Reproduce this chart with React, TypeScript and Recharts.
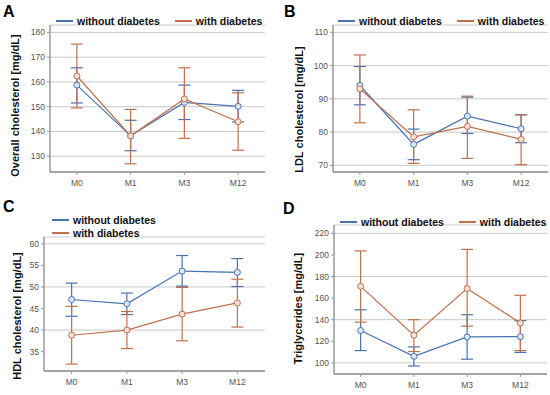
import React from "react";
import {
  LineChart,
  Line,
  XAxis,
  YAxis,
  CartesianGrid,
  ErrorBar,
  Legend,
  Label,
} from "recharts";

const months = ["M0", "M1", "M3", "M12"];
const seriesNames = ["without diabetes", "with diabetes"];

// A: overall cholesterol
const cholNoMean = [158.7, 138.2, 151.7, 150.1];
const cholNoLow = [151.5, 132.2, 144.8, 143.8];
const cholNoHigh = [165.7, 144.5, 158.7, 156.6];
const cholDiMean = [162.4, 138.2, 153.1, 143.9];
const cholDiLow = [149.5, 126.9, 137.2, 132.4];
const cholDiHigh = [175.3, 148.9, 165.7, 155.6];
const cholTicks = [130, 140, 150, 160, 170, 180];

// B: LDL
const ldlNoMean = [94.0, 76.3, 84.8, 81.0];
const ldlNoLow = [88.2, 71.7, 79.6, 76.8];
const ldlNoHigh = [99.7, 80.9, 90.5, 85.2];
const ldlDiMean = [93.0, 78.6, 81.7, 77.8];
const ldlDiLow = [82.8, 70.6, 72.1, 70.2];
const ldlDiHigh = [103.2, 86.7, 90.8, 85.2];
const ldlTicks = [70, 80, 90, 100, 110];

// C: HDL
const hdlNoMean = [47.1, 46.1, 53.7, 53.4];
const hdlNoLow = [43.2, 43.6, 50.2, 50.1];
const hdlNoHigh = [50.9, 48.6, 57.3, 56.6];
const hdlDiMean = [38.8, 40.0, 43.7, 46.3];
const hdlDiLow = [32.1, 35.7, 37.5, 40.7];
const hdlDiHigh = [45.5, 44.3, 49.9, 51.8];
const hdlTicks = [35, 40, 45, 50, 55, 60];

// D: triglycerides
const tgNoMean = [130.0, 106.0, 124.0, 124.3];
const tgNoLow = [111.4, 97.1, 103.4, 109.7];
const tgNoHigh = [149.1, 114.8, 144.6, 139.1];
const tgDiMean = [170.9, 125.7, 168.9, 137.0];
const tgDiLow = [137.7, 110.5, 134.0, 111.4];
const tgDiHigh = [203.7, 140.0, 205.1, 162.6];
const tgTicks = [100, 120, 140, 160, 180, 200, 220];

const BLUE = "#4673b3";
const BROWN = "#c0714c";
const FONT = "'Liberation Sans', Arial, sans-serif";

function buildRows(
  noMean: number[], noLow: number[], noHigh: number[],
  diMean: number[], diLow: number[], diHigh: number[]
) {
  return months.map((m, i) => ({
    m,
    no: noMean[i],
    noErr: [noMean[i] - noLow[i], noHigh[i] - noMean[i]],
    di: diMean[i],
    diErr: [diMean[i] - diLow[i], diHigh[i] - diMean[i]],
  }));
}

function LegendBox({ payload, vertical }: any) {
  const items = [...(payload || [])].sort(
    (a: any, b: any) => seriesNames.indexOf(a.value) - seriesNames.indexOf(b.value)
  );
  return (
    <div
      style={{
        display: "flex",
        flexDirection: vertical ? "column" : "row",
        gap: vertical ? 1 : 15,
        fontFamily: FONT,
        fontWeight: "bold",
        fontSize: 10.5,
        color: "#111",
        lineHeight: "12px",
      }}
    >
      {items.map((p: any) => (
        <div key={p.value} style={{ display: "flex", alignItems: "center" }}>
          <span
            style={{
              display: "inline-block",
              width: 17,
              height: 2,
              background: p.color,
              marginRight: 4,
            }}
          />
          <span>{p.value}</span>
        </div>
      ))}
    </div>
  );
}

interface PanelProps {
  letter: string;
  ylabel: string;
  rows: any[];
  domain: [number, number];
  ticks: number[];
  left: number;
  top: number;
  width: number;
  height: number;
  margin: { top: number; right: number; left: number; bottom: number };
  yWidth: number;
  xHeight: number;
  labelX: number;
  labelDy: number;
  legendPos: { left: number; top: number };
  legendVertical?: boolean;
  letterPos: { left: number; top: number };
}

function Panel(p: PanelProps) {
  return (
    <div style={{ position: "absolute", left: p.left, top: p.top, width: p.width, height: p.height }}>
      <div
        style={{
          position: "absolute",
          left: p.letterPos.left,
          top: p.letterPos.top,
          fontFamily: FONT,
          fontWeight: "bold",
          fontSize: 16,
          lineHeight: "16px",
          color: "#000",
          zIndex: 2,
        }}
      >
        {p.letter}
      </div>
      <LineChart width={p.width} height={p.height} data={p.rows} margin={p.margin}>
        <CartesianGrid vertical={false} stroke="#c9c9c9" strokeWidth={1} />
        <XAxis
          dataKey="m"
          scale="band"
          height={p.xHeight}
          tick={{ fontSize: 8.5, fill: "#555", fontFamily: FONT, dy: 3 }}
          tickLine={{ stroke: "#999" }}
          tickSize={3}
          axisLine={{ stroke: "#666" }}
        />
        <XAxis
          xAxisId="top"
          dataKey="m"
          scale="band"
          orientation="top"
          height={0}
          tick={false}
          tickLine={false}
          axisLine={{ stroke: "#666" }}
        />
        <YAxis
          domain={p.domain}
          ticks={p.ticks}
          type="number"
          allowDataOverflow
          width={p.yWidth}
          tick={{ fontSize: 8.5, fill: "#555", fontFamily: FONT }}
          tickLine={{ stroke: "#999" }}
          tickSize={3}
          axisLine={{ stroke: "#666" }}
        >
          <Label
            content={(lp: any) => {
              const vb = lp.viewBox || {};
              const cx = p.labelX;
              const cy = vb.y + vb.height / 2 + p.labelDy;
              return (
                <text
                  x={cx}
                  y={cy}
                  transform={`rotate(-90, ${cx}, ${cy})`}
                  textAnchor="middle"
                  dominantBaseline="central"
                  fontFamily={FONT}
                  fontWeight="bold"
                  fontSize={11}
                  fill="#111"
                >
                  {p.ylabel}
                </text>
              );
            }}
          />
        </YAxis>
        <YAxis
          yAxisId="right"
          orientation="right"
          domain={p.domain}
          type="number"
          width={0}
          tick={false}
          tickLine={false}
          axisLine={{ stroke: "#666" }}
        />
        <Legend
          verticalAlign="top"
          content={(lp: any) => <LegendBox payload={lp.payload} vertical={p.legendVertical} />}
          wrapperStyle={{ position: "absolute", left: p.legendPos.left, top: p.legendPos.top, width: "auto" }}
        />
        <Line
          dataKey="no"
          name="without diabetes"
          stroke={BLUE}
          strokeWidth={1.2}
          dot={{ r: 3, stroke: BLUE, strokeWidth: 1, fill: "#dfe7f3" }}
          isAnimationActive={false}
        >
          <ErrorBar dataKey="noErr" width={6} stroke={BLUE} strokeWidth={1.2} direction="y" />
        </Line>
        <Line
          dataKey="di"
          name="with diabetes"
          stroke={BROWN}
          strokeWidth={1.2}
          dot={{ r: 3, stroke: BROWN, strokeWidth: 1, fill: "#f3e2da" }}
          isAnimationActive={false}
        >
          <ErrorBar dataKey="diErr" width={6} stroke={BROWN} strokeWidth={1.2} direction="y" />
        </Line>
      </LineChart>
    </div>
  );
}

export default function App() {
  return (
    <div style={{ position: "absolute", left: 0, top: 0, width: 550, height: 395, background: "#fff" }}>
      <Panel
        letter="A"
        ylabel="Overall cholesterol [mg/dL]"
        rows={buildRows(cholNoMean, cholNoLow, cholNoHigh, cholDiMean, cholDiLow, cholDiHigh)}
        domain={[123.6, 183]}
        ticks={cholTicks}
        left={0}
        top={0}
        width={275}
        height={195}
        margin={{ top: 13, right: 10, left: 0, bottom: 0 }}
        yWidth={50}
        xHeight={23}
        labelX={15}
        labelDy={7}
        legendPos={{ left: 56, top: 15 }}
        letterPos={{ left: 3, top: 4 }}
      />
      <Panel
        letter="B"
        ylabel="LDL cholesterol [mg/dL]"
        rows={buildRows(ldlNoMean, ldlNoLow, ldlNoHigh, ldlDiMean, ldlDiLow, ldlDiHigh)}
        domain={[68, 112.2]}
        ticks={ldlTicks}
        left={275}
        top={0}
        width={275}
        height={195}
        margin={{ top: 13, right: 2, left: 0, bottom: 0 }}
        yWidth={58}
        xHeight={23}
        labelX={24}
        labelDy={11}
        legendPos={{ left: 63, top: 15 }}
        letterPos={{ left: 9, top: 4 }}
      />
      <Panel
        letter="C"
        ylabel="HDL cholesterol [mg/dL]"
        rows={buildRows(hdlNoMean, hdlNoLow, hdlNoHigh, hdlDiMean, hdlDiLow, hdlDiHigh)}
        domain={[30.5, 61.6]}
        ticks={hdlTicks}
        left={0}
        top={195}
        width={275}
        height={200}
        margin={{ top: 17, right: 10, left: 0, bottom: 0 }}
        yWidth={44}
        xHeight={24}
        labelX={17}
        labelDy={12}
        legendPos={{ left: 52, top: 19 }}
        legendVertical
        letterPos={{ left: 3, top: 4 }}
      />
      <Panel
        letter="D"
        ylabel="Triglycerides [mg/dL]"
        rows={buildRows(tgNoMean, tgNoLow, tgNoHigh, tgDiMean, tgDiLow, tgDiHigh)}
        domain={[89.7, 227.7]}
        ticks={tgTicks}
        left={275}
        top={195}
        width={275}
        height={200}
        margin={{ top: 18, right: 3, left: 0, bottom: 0 }}
        yWidth={59}
        xHeight={21}
        labelX={23}
        labelDy={9}
        legendPos={{ left: 65, top: 21 }}
        letterPos={{ left: 8, top: 6 }}
      />
    </div>
  );
}
